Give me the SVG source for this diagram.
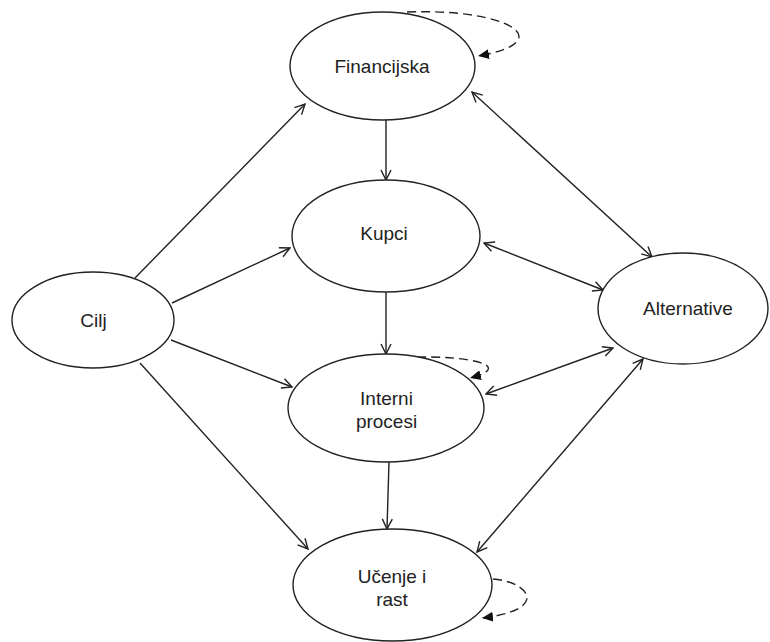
<svg xmlns="http://www.w3.org/2000/svg" width="770" height="642" viewBox="0 0 770 642">
<style>
.node ellipse{fill:#fff;stroke:#222;stroke-width:1.4}
.node text{font-family:"Liberation Sans",Arial,sans-serif;font-size:19px;fill:#222;text-anchor:middle}
.edge{fill:none;stroke:#222;stroke-width:1.4}
.oneway{marker-end:url(#open)}
.both{marker-start:url(#open);marker-end:url(#open)}
.loop{fill:none;stroke:#222;stroke-width:1.4;stroke-dasharray:9 5;marker-end:url(#solid)}
</style>
<defs>
<marker id="open" viewBox="0 0 12 12" refX="11" refY="6" markerWidth="12" markerHeight="12" markerUnits="userSpaceOnUse" orient="auto-start-reverse">
<path d="M1,1 L11,6 L1,11" fill="none" stroke="#222" stroke-width="1.4"/>
</marker>
<marker id="solid" viewBox="0 0 12 10" refX="11" refY="5" markerWidth="12" markerHeight="10" markerUnits="userSpaceOnUse" orient="auto">
<path d="M0,0 L11,5 L0,10 Z" fill="#111"/>
</marker>
</defs>
<rect width="770" height="642" fill="#fff"/>
<g id="connectors">
<line class="edge oneway" x1="386" y1="120" x2="386" y2="180"/>
<line class="edge oneway" x1="386" y1="292" x2="386" y2="354"/>
<line class="edge oneway" x1="389" y1="462" x2="387" y2="529"/>
<line class="edge oneway" x1="135" y1="278" x2="305" y2="104"/>
<line class="edge oneway" x1="172" y1="303" x2="290" y2="248"/>
<line class="edge oneway" x1="171" y1="340" x2="292" y2="387"/>
<line class="edge oneway" x1="140" y1="363" x2="308" y2="549"/>
<line class="edge both" x1="472" y1="92" x2="652" y2="257"/>
<line class="edge both" x1="484" y1="243" x2="603" y2="290"/>
<line class="edge both" x1="486" y1="394" x2="613" y2="348"/>
<line class="edge both" x1="477" y1="552" x2="643" y2="359"/>
<path class="loop" d="M407 12 C510 8 560 42 478 56"/>
<path class="loop" d="M417 357 C470 356 515 366 470 378"/>
<path class="loop" d="M493 579 C530 582 550 610 482 618"/>
</g>
<g id="financijska" class="node">
<ellipse cx="382.5" cy="66" rx="92.5" ry="54"/>
<text x="382" y="73">Financijska</text>
</g>
<g id="kupci" class="node">
<ellipse cx="386" cy="236" rx="94" ry="56"/>
<text x="384" y="240">Kupci</text>
</g>
<g id="cilj" class="node">
<ellipse cx="93" cy="320" rx="81" ry="48"/>
<text x="93.5" y="327">Cilj</text>
</g>
<g id="alternative" class="node">
<ellipse cx="683" cy="308.5" rx="85" ry="55.5"/>
<text x="688" y="315">Alternative</text>
</g>
<g id="interni-procesi" class="node">
<ellipse cx="386" cy="408" rx="98" ry="54"/>
<text x="386.5" y="405">Interni</text>
<text x="386.5" y="428">procesi</text>
</g>
<g id="ucenje-i-rast" class="node">
<ellipse cx="392.5" cy="585" rx="99.5" ry="56"/>
<text x="392" y="583">Učenje i</text>
<text x="392" y="606">rast</text>
</g>
</svg>
